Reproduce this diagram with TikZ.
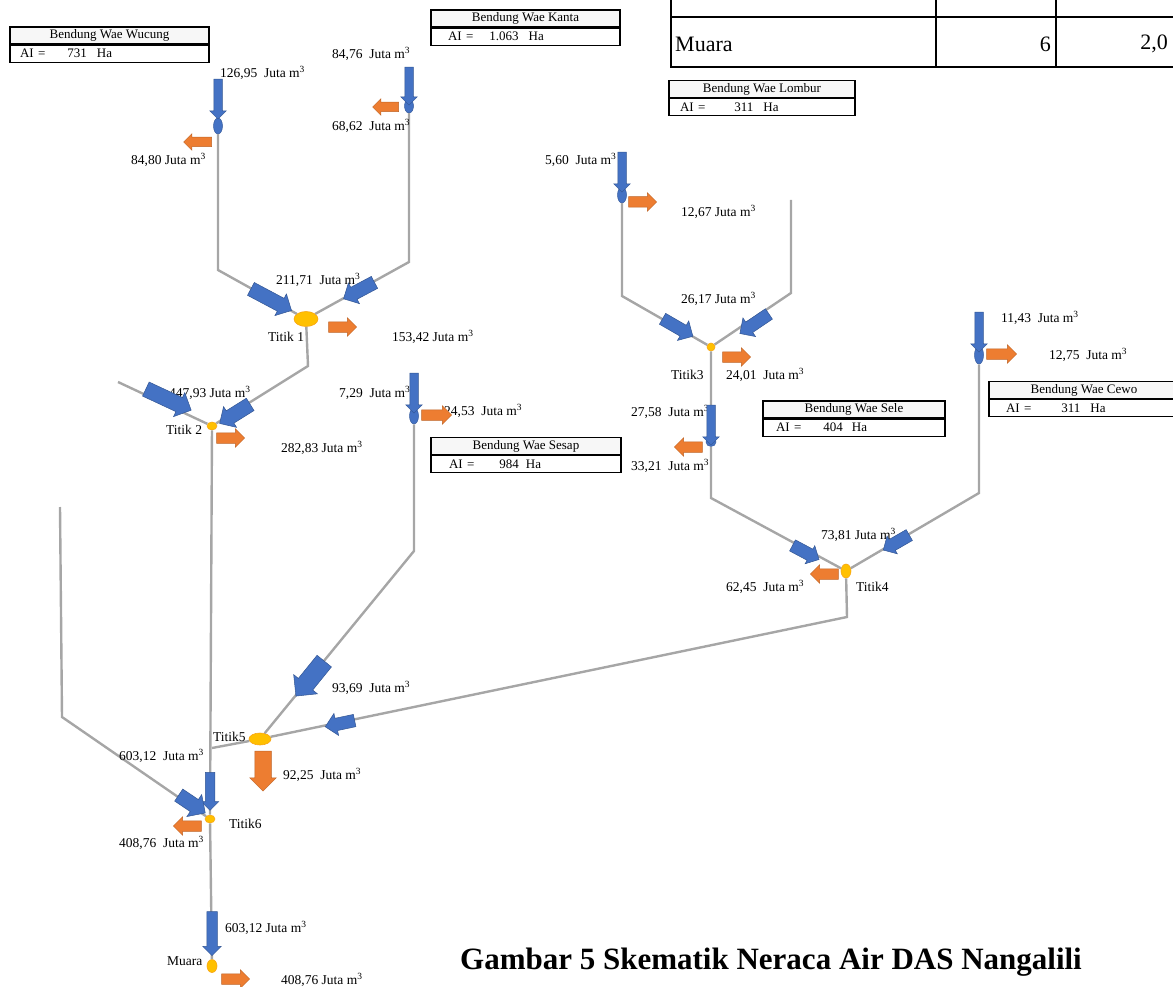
\documentclass[tikz,border=0pt]{standalone}
\usepackage{fontspec}
\setmainfont{Liberation Serif}
\usetikzlibrary{shapes.geometric, shapes.arrows, positioning}

\definecolor{inblue}{HTML}{4472C4}
\definecolor{outorange}{HTML}{ED7D31}
\definecolor{titikyellow}{HTML}{FFC000}
\definecolor{river}{HTML}{A6A6A6}
\newcommand{\jm}{Juta m\textsuperscript{3}}

\tikzset{
  bendung/.style={ellipse, fill=inblue, draw=inblue!80!black, line width=.5pt, inner sep=0pt, minimum width=9, minimum height=16},
  titik/.style={ellipse, fill=titikyellow, draw=titikyellow!60!outorange, line width=.6pt, inner sep=0pt, minimum width=10, minimum height=8},
  sungai/.style={draw=river, line width=2.4pt},
  arus/.style args={#1/#2/#3}{single arrow, inner sep=0pt, text depth=0pt, minimum height=#1pt, text height=#2pt, single arrow head extend=#3pt, line width=.5pt},
  masuk/.style={arus=#1, fill=inblue, draw=inblue!75!black},
  keluar/.style={arus=#1, fill=outorange, draw=outorange!80!black},
  lbl/.style={anchor=west, inner sep=0pt},
  kepala/.style={draw, fill=gray!6, line width=1.2pt, inner xsep=4pt, inner ysep=0pt, minimum height=17, font=\fontsize{13}{14}\selectfont},
  luas/.style={draw, line width=1.2pt, inner xsep=4pt, inner ysep=0pt, minimum height=17, align=left, font=\fontsize{13}{14}\selectfont}
}

\begin{document}
\begin{tikzpicture}[x=1pt, y=-1pt, font=\fontsize{13.5}{15}\selectfont]
\useasboundingbox (0,0) rectangle (1173,987);

% tabel muara (terpotong)
\draw[line width=2pt] (670,17) -- (1173,17) (670,67) -- (1173,67)
  (671,0) -- (671,68) (936,0) -- (936,68) (1056,0) -- (1056,68);
\node[lbl, font=\fontsize{22}{24}\selectfont] (tmuara) at (675,44) {Muara};
\node[anchor=east, inner sep=0pt, font=\fontsize{22}{24}\selectfont] (tmuaraa) at (1051,44) {6};
\node[anchor=east, inner sep=0pt, font=\fontsize{22}{24}\selectfont] (tmuarab) at (1168,44) {2,0};

% kotak bendung
\node[kepala, minimum width=199] (wucunghd) at (109.5,35.5) {Bendung Wae Wucung};
\node[luas, text width=191, below=0pt of wucunghd] (wucungai) {\hspace*{6pt}AI =\hspace{22pt}731\hspace{10pt}Ha};
\node[kepala, minimum width=189] (kantahd) at (525.5,18.5) {Bendung Wae Kanta};
\node[luas, text width=181, below=0pt of kantahd] (kantaai) {\hspace*{13pt}AI =\hspace{16pt}1.063\hspace{10pt}Ha};
\node[kepala, minimum width=186] (lomburhd) at (762,89) {Bendung Wae Lombur};
\node[luas, text width=178, below=0pt of lomburhd] (lomburai) {\hspace*{7pt}AI =\hspace{29pt}311\hspace{10pt}Ha};
\node[kepala, minimum width=190] (sesaphd) at (526,446) {Bendung Wae Sesap};
\node[luas, text width=182, below=0pt of sesaphd] (sesapai) {\hspace*{14pt}AI =\hspace{25pt}984\hspace{7pt}Ha};
\node[kepala, minimum width=182] (selehd) at (854,409.5) {Bendung Wae Sele};
\node[luas, text width=174, below=0pt of selehd] (seleai) {\hspace*{9pt}AI =\hspace{22pt}404\hspace{9pt}Ha};
\node[kepala, minimum width=190] (cewohd) at (1084,390) {Bendung Wae Cewo};
\node[luas, text width=182, below=0pt of cewohd] (cewoai) {\hspace*{13pt}AI =\hspace{30pt}311\hspace{10pt}Ha};

% bendung
\node[bendung] (wucung) at (218,126) {};
\node[bendung, minimum height=14] (kanta) at (409,106) {};
\node[bendung] (sesap) at (414,416) {};
\node[bendung] (lombur) at (622,195) {};
\node[bendung, minimum width=10, minimum height=9] (sele) at (711,442) {};
\node[bendung, minimum height=18] (cewo) at (979,355) {};

% titik
\node[titik, minimum width=24, minimum height=15] (t1) at (306,319) {};
\node[titik] (t2) at (212,426) {};
\node[titik, minimum width=8] (t3) at (711,347) {};
\node[titik, minimum height=14] (t4) at (846,571) {};
\node[titik, minimum width=22, minimum height=12] (t5) at (260,739) {};
\node[titik] (t6) at (210,819) {};
\node[titik, minimum height=13] (muara) at (212,966) {};

\coordinate (w1) at (218,270);
\coordinate (k1) at (409,262);
\coordinate (c1) at (308,366);
\coordinate (l1) at (118,382);
\coordinate (s1) at (414,551);
\coordinate (j5) at (212,748);
\coordinate (c4) at (847,617);
\coordinate (l2) at (60,507);
\coordinate (l3) at (62,717);
\coordinate (lb1) at (622,296);
\coordinate (r1) at (791,200);
\coordinate (r2) at (791,293);
\coordinate (se1) at (711,498);
\coordinate (cw1) at (979,493);

% sungai
\draw[sungai] (wucung) -- (w1) -- (t1);
\draw[sungai] (kanta) -- (k1) -- (t1);
\draw[sungai] (t1) -- (c1) -- (t2);
\draw[sungai] (l1) -- (t2);
\draw[sungai] (t2) -- (t6);
\draw[sungai] (t6) -- (muara);
\draw[sungai] (sesap) -- (s1) -- (t5);
\draw[sungai] (t5) -- (j5);
\draw[sungai] (t4) -- (c4) -- (t5);
\draw[sungai] (l2) -- (l3) -- (t6);
\draw[sungai] (lombur) -- (lb1) -- (t3);
\draw[sungai] (r1) -- (r2) -- (t3);
\draw[sungai] (t3) -- (sele) -- (se1) -- (t4);
\draw[sungai] (cewo) -- (cw1) -- (t4);

% label debit
\node[lbl] (lwucungin) at (220,73) {126,95~~\jm};
\node[lbl] (lkantain) at (332,54) {84,76~~\jm};
\node[lbl] (lkantaout) at (332,126) {68,62~~\jm};
\node[lbl] (lwucungout) at (131,160) {84,80 \jm};
\node[lbl] (lt1in) at (276,280) {211,71~~\jm};
\node[lbl] (nt1) at (268,337) {Titik 1};
\node[lbl] (lt1out) at (392,337) {153,42 \jm};
\node[lbl] (lt2in) at (169,393) {447,93 \jm};
\node[lbl] (nt2) at (166,430) {Titik 2};
\node[lbl] (lt2out) at (281,448) {282,83 \jm};
\node[lbl] (lsesapin) at (339,393) {7,29~~\jm};
\node[lbl] (lsesapout) at (444,411) {24,53~~\jm};
\node[lbl] (llomburin) at (545,160) {5,60~~\jm};
\node[lbl] (llomburout) at (681,212) {12,67 \jm};
\node[lbl] (lt3in) at (681,299) {26,17 \jm};
\node[lbl] (nt3) at (671,375) {Titik3};
\node[lbl] (lt3out) at (726,375) {24,01~~\jm};
\node[lbl] (lselein) at (631,412) {27,58~~\jm};
\node[lbl] (lseleout) at (631,466) {33,21~~\jm};
\node[lbl] (lcewoin) at (1001,318) {11,43~~\jm};
\node[lbl] (lcewoout) at (1049,355) {12,75~~\jm};
\node[lbl] (lt4in) at (821,535) {73,81 \jm};
\node[lbl] (lt4out) at (726,587) {62,45~~\jm};
\node[lbl] (nt4) at (856,587) {Titik4};
\node[lbl] (lt5in) at (332,688) {93,69~~\jm};
\node[lbl] (nt5) at (213,737) {Titik5};
\node[lbl] (lt6in) at (119,756) {603,12~~\jm};
\node[lbl] (lt5out) at (283,775) {92,25~~\jm};
\node[lbl] (nt6) at (229,824) {Titik6};
\node[lbl] (lt6out) at (119,843) {408,76~~\jm};
\node[lbl] (lmuarain) at (225,928) {603,12 \jm};
\node[lbl] (nmuara) at (167,961) {Muara};
\node[lbl] (lmuaraout) at (281,980) {408,76 \jm};

% aliran masuk
\node[masuk=40/8/4, rotate=-90] (inwucung) at (218,97) {};
\node[masuk=38/8/4, rotate=-90] (inkanta) at (409,84) {};
\node[masuk=46/14/5, rotate=-28] (int1a) at (268,298) {};
\node[masuk=35/13/5, rotate=-152] (int1b) at (362,289) {};
\node[masuk=50/15/5.5, rotate=-25] (int2a) at (165,398) {};
\node[masuk=36/14/5, rotate=-148] (int2b) at (238,412) {};
\node[masuk=40/8/4, rotate=-90] (insesap) at (414,391) {};
\node[masuk=40/8/4, rotate=-90] (inlombur) at (622,170) {};
\node[masuk=35/12/5, rotate=-30] (int3a) at (675,326) {};
\node[masuk=35/12/5, rotate=-146] (int3b) at (757,322) {};
\node[masuk=40/8/4, rotate=-90] (insele) at (711,423) {};
\node[masuk=40/8/4, rotate=-90] (incewo) at (979,330) {};
\node[masuk=30/12/4, rotate=-28] (int4a) at (803,551) {};
\node[masuk=30/12/4, rotate=-150] (int4b) at (899,541) {};
\node[masuk=45/18/6, rotate=-129] (int5a) at (313,675) {};
\node[masuk=30/12/5, rotate=-168] (int5b) at (343,723) {};
\node[masuk=38/9/4, rotate=-90] (int6a) at (210,789) {};
\node[masuk=32/14/6, rotate=-34] (int6b) at (189,802) {};
\node[masuk=44/10/4, rotate=-90] (inmuara) at (212,931) {};

% aliran keluar
\node[keluar=28/9/3.5, rotate=180] (outwucung) at (200,142) {};
\node[keluar=26/9/3.5, rotate=180] (outkanta) at (388,107) {};
\node[keluar=28/10/4, rotate=0] (outt1) at (340,327) {};
\node[keluar=28/10/4, rotate=0] (outt2) at (228,438) {};
\node[keluar=30/10/4, rotate=0] (outsesap) at (434,415) {};
\node[keluar=28/10/4, rotate=0] (outlombur) at (640,202) {};
\node[keluar=28/10/4, rotate=0] (outt3) at (734,357) {};
\node[keluar=28/10/4, rotate=180] (outsele) at (691,447) {};
\node[keluar=30/10/4, rotate=0] (outcewo) at (999,354) {};
\node[keluar=28/10/4, rotate=180] (outt4) at (827,574) {};
\node[keluar=40/16/5, rotate=-90] (outt5) at (263,767) {};
\node[keluar=28/10/4, rotate=180] (outt6) at (190,826) {};
\node[keluar=28/10/4, rotate=0] (outmuara) at (233,979) {};

% judul
\node[font=\bfseries\fontsize{31}{34}\selectfont] (judul) at (771,962) {Gambar 5 Skematik Neraca Air DAS Nangalili};
\end{tikzpicture}
\end{document}
